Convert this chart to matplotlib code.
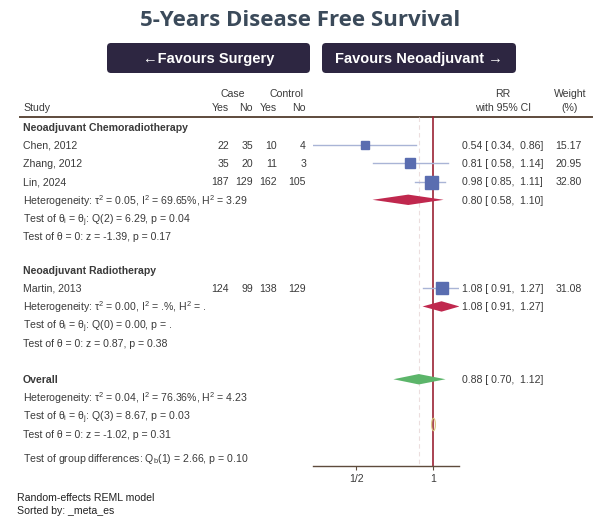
import numpy as np
import matplotlib
matplotlib.use("Agg")
import matplotlib.pyplot as plt
from matplotlib.patches import FancyBboxPatch
from matplotlib.path import Path
from matplotlib.transforms import Affine2D

plt.rcParams['font.family'] = ['Liberation Sans', 'DejaVu Sans']
plt.rcParams['mathtext.fontset'] = 'custom'
plt.rcParams['mathtext.rm'] = 'Liberation Sans'
plt.rcParams['mathtext.it'] = 'Liberation Sans:italic'

# Study data
groups = ["Neoadjuvant Chemoradiotherapy", "Neoadjuvant Radiotherapy"]
studies = [["Chen, 2012", "Zhang, 2012", "Lin, 2024"], ["Martin, 2013"]]
case_yes = [[22, 35, 187], [124]]
case_no = [[35, 20, 129], [99]]
ctrl_yes = [[10, 11, 162], [138]]
ctrl_no = [[4, 3, 105], [129]]
rr = [[0.54, 0.81, 0.98], [1.08]]
ci_lo = [[0.34, 0.58, 0.85], [0.91]]
ci_hi = [[0.86, 1.14, 1.11], [1.27]]
weights = [[15.17, 20.95, 32.80], [31.08]]

# Subgroup summaries
sub_rr = [0.80, 1.08]
sub_lo = [0.58, 0.91]
sub_hi = [1.10, 1.27]
sub_het = [r"Heterogeneity: τ$^2$ = 0.05, I$^2$ = 69.65%, H$^2$ = 3.29",
           r"Heterogeneity: τ$^2$ = 0.00, I$^2$ = .%, H$^2$ = ."]
sub_q = [r"Test of θ$_\mathrm{i}$ = θ$_\mathrm{j}$: Q(2) = 6.29, p = 0.04",
         r"Test of θ$_\mathrm{i}$ = θ$_\mathrm{j}$: Q(0) = 0.00, p = ."]
sub_z = ["Test of θ = 0: z = -1.39, p = 0.17",
         "Test of θ = 0: z = 0.87, p = 0.38"]

# Overall
overall_rr, overall_lo, overall_hi = 0.88, 0.70, 1.12
overall_het = r"Heterogeneity: τ$^2$ = 0.04, I$^2$ = 76.36%, H$^2$ = 4.23"
overall_q = r"Test of θ$_\mathrm{i}$ = θ$_\mathrm{j}$: Q(3) = 8.67, p = 0.03"
overall_z = "Test of θ = 0: z = -1.02, p = 0.31"
group_diff = r"Test of group differences: Q$_\mathrm{b}$(1) = 2.66, p = 0.10"

# layout (pixels)
W, H = 600, 523
Y0, ROW = 127, 18.2
FS = 7.6
BASE = 3.7   # baseline offset below row centre
TXT = '#3a3a3a'
BROWN = '#5e4b3c'
SQ = '#5a6db0'
CI = '#a9b4d6'
RED = '#c0284e'
GREEN = '#5cb56a'
LINE_RED = '#9b2335'

fig = plt.figure(figsize=(W / 100, H / 100), dpi=100)
tx = fig.add_axes([0, 0, 1, 1])
tx.set_xlim(0, W)
tx.set_ylim(H, 0)
tx.axis('off')

# forest axes, log RR scale
px_per_ln = 111
x_null = 433
x_left, x_right, y_axis = 313, 459, 466
fx = fig.add_axes([x_left / W, (H - y_axis) / H, (x_right - x_left) / W, y_axis / H])
fx.set_xscale('log')
fx.set_xlim(np.exp((x_left - x_null) / px_per_ln), np.exp((x_right - x_null) / px_per_ln))
fx.set_ylim((y_axis - Y0) / ROW, (0 - Y0) / ROW)
fx.patch.set_alpha(0)
for s in ['top', 'left', 'right']:
    fx.spines[s].set_visible(False)
fx.spines['bottom'].set_color(BROWN)
fx.spines['bottom'].set_linewidth(1.0)
fx.set_yticks([])
fx.set_xticks([0.5, 1])
fx.set_xticklabels(["1/2", "1"])
fx.minorticks_off()
fx.tick_params(axis='x', length=3, color=BROWN, labelsize=FS, labelcolor=TXT, pad=3)


def put(x, y, s, ha='left', bold=False, color=TXT):
    # mathtext lines sit a touch high on the baseline
    off = BASE + (1.2 if '$' in s else 0)
    tx.text(x, y + off, s, fontsize=FS, color=color, va='baseline', ha=ha,
            fontweight='bold' if bold else 'normal')


def ty(r):
    return Y0 + r * ROW


def left(r, s, bold=False):
    put(23, ty(r), s, bold=bold)


# title and buttons
tx.text(300, 21, "5-Years Disease Free Survival", fontsize=16, fontweight='bold',
        family=['Open Sans', 'DejaVu Sans'], color='#3b4a5a', ha='center', va='center')
for (bx0, bx1), lab in zip([(107, 310), (322, 516)], ["←Favours Surgery", "Favours Neoadjuvant →"]):
    tx.add_patch(FancyBboxPatch((bx0 + 4, 47), bx1 - bx0 - 8, 22,
                                boxstyle="round,pad=4", fc='#2d2641', ec='none'))
    tx.text((bx0 + bx1) / 2, 58.5, lab, color='white', fontsize=10.5, fontweight='bold',
            ha='center', va='center')

# header
col_x = [229, 253, 277, 306]
put(233, 93, "Case", ha='center')
put(287, 93, "Control", ha='center')
for cx, lab in zip(col_x, ["Yes", "No", "Yes", "No"]):
    put(cx, 107.5, lab, ha='right')
put(23, 107.5, "Study")
put(503, 93, "RR", ha='center')
put(503, 107.5, "with 95% CI", ha='center')
put(570, 93, "Weight", ha='center')
put(570, 107.5, "(%)", ha='center')
tx.plot([20, 592], [117, 117], color=BROWN, lw=1.4)

# null line and overall-effect line
top_row = (117 - Y0) / ROW
bot_row = (y_axis - Y0) / ROW
fx.plot([overall_rr, overall_rr], [top_row, bot_row], color='#ecdede', lw=0.8, ls=(0, (4, 3)), zorder=1)
fx.plot([1, 1], [top_row, bot_row], color=LINE_RED, lw=1.2, zorder=2)

max_w = max(max(w) for w in weights)
gaps = [1.86, 2.0]
h = 5.2 / ROW
r = 0
for g in range(len(groups)):
    left(r, groups[g], bold=True)
    for i, name in enumerate(studies[g]):
        r += 1
        left(r, name)
        for cx, v in zip(col_x, [case_yes[g][i], case_no[g][i], ctrl_yes[g][i], ctrl_no[g][i]]):
            put(cx, ty(r), str(v), ha='right')
        fx.plot([ci_lo[g][i], ci_hi[g][i]], [r, r], color=CI, lw=1.0, zorder=3)
        side = 13 * np.sqrt(weights[g][i] / max_w) * 0.72
        fx.plot([rr[g][i]], [r], marker='s', ms=side, color=SQ, mec=SQ, zorder=4)
        put(462, ty(r), f"{rr[g][i]:.2f} [ {ci_lo[g][i]:.2f},  {ci_hi[g][i]:.2f}]")
        put(582, ty(r), f"{weights[g][i]:.2f}", ha='right')
    r += 1
    left(r, sub_het[g])
    fx.fill([sub_lo[g], sub_rr[g], sub_hi[g], sub_rr[g]], [r, r - h, r, r + h],
            color=RED, lw=0, zorder=4)
    put(462, ty(r), f"{sub_rr[g]:.2f} [ {sub_lo[g]:.2f},  {sub_hi[g]:.2f}]")
    r += 1
    left(r, sub_q[g])
    r += 1
    left(r, sub_z[g])
    r += gaps[g]

left(r, "Overall", bold=True)
fx.fill([overall_lo, overall_rr, overall_hi, overall_rr], [r, r - h, r, r + h],
        color=GREEN, lw=0, zorder=4)
put(462, ty(r), f"{overall_rr:.2f} [ {overall_lo:.2f},  {overall_hi:.2f}]")
r += 1
left(r, overall_het)
r += 1
left(r, overall_q)
# small marker on the null line
ell = Path.unit_circle().transformed(Affine2D().scale(0.3, 1.0))
fx.plot([1], [r + 0.45], marker=ell, ms=9, mfc='none', mec='#d8c47e', mew=0.8, zorder=5)
r += 1
left(r, overall_z)
r += 1.25
left(r, group_diff)

put(17, 497, "Random-effects REML model", color='#222222')
put(17, 510, "Sorted by: _meta_es", color='#222222')

fig.savefig("out.png", dpi=100)
